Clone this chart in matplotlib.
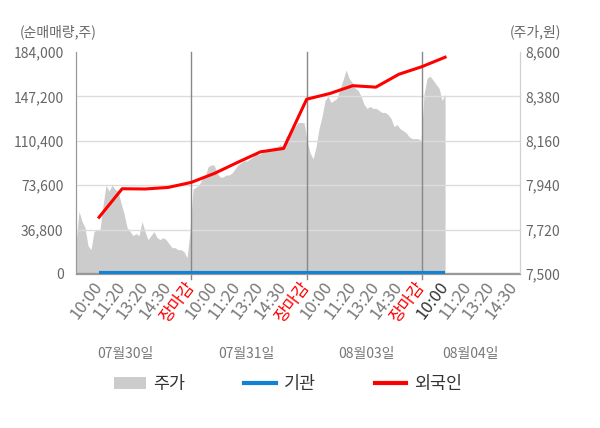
import numpy as np
import matplotlib.pyplot as plt
from matplotlib.patches import Patch
from matplotlib.lines import Line2D

plt.rcParams['font.family'] = ['Noto Sans CJK KR', 'DejaVu Sans']

# ======================
# 데이터
# ======================
tick_labels = ['10:00', '11:20', '13:20', '14:30', '장마감'] * 3 + ['10:00', '11:20', '13:20', '14:30']
dates = ['07월30일', '07월31일', '08월03일', '08월04일']

# 외국인 / 기관 순매매량 (주)
foreign = [47000, 70600, 70400, 71700, 75900, 83300, 92400, 101200,
           104000, 144800, 149500, 156000, 154800, 165500, 171800, 179600]
institution = [1000] * 16

# 주가 (원), 장중 흐름
price = [7650, 7810, 7760, 7730, 7640, 7620, 7710, 7720, 7720, 7840,
         7940, 7910, 7940, 7920, 7910, 7850, 7800, 7730, 7710, 7690,
         7700, 7690, 7760, 7710, 7670, 7690, 7710, 7680, 7670, 7680,
         7670, 7650, 7630, 7630, 7620, 7620, 7610, 7580, 7710, 7920,
         7930, 7940, 7970, 7980, 8030, 8040, 8040, 8000, 7980, 7980,
         7990, 7990, 8000, 8020, 8040, 8050, 8060, 8060, 8070, 8080,
         8100, 8090, 8100, 8110, 8120, 8120, 8130, 8130, 8140, 8130,
         8180, 8190, 8210, 8230, 8250, 8250, 8250, 8160, 8100, 8070,
         8130, 8220, 8280, 8360, 8380, 8350, 8360, 8370, 8420, 8460,
         8510, 8470, 8450, 8420, 8410, 8380, 8340, 8320, 8330, 8320,
         8320, 8310, 8300, 8300, 8290, 8270, 8230, 8240, 8220, 8210,
         8200, 8180, 8170, 8170, 8170, 8160, 8390, 8470, 8480, 8460,
         8440, 8420, 8360, 8390]

vol_ticks = [0, 36800, 73600, 110400, 147200, 184000]
price_ticks = [7500, 7720, 7940, 8160, 8380, 8600]

# ======================
# 그리기
# ======================
fig = plt.figure(figsize=(6, 4.28), dpi=100)
ax = fig.add_axes([0.1267, 0.36, 0.74, 0.5187])
ax2 = ax.twinx()

x_left, x_right = -1, 18.25
xi = np.arange(len(foreign))
xp = np.linspace(x_left, len(foreign) - 1, len(price))

ax2.patch.set_facecolor('#f4f4f4')
ax2.fill_between(xp, price, 7500, color='#cccccc', lw=0)
ax2.set_ylim(7500, 8600)
ax2.set_yticks(price_ticks)
ax2.set_yticklabels([f'{v:,}' for v in price_ticks])

ax.set_zorder(ax2.get_zorder() + 1)
ax.patch.set_visible(False)

for v in vol_ticks[1:-1]:
    ax.axhline(v, color='#dcdcdc', lw=1, zorder=1)
ax.axhline(1000, color='#999999', lw=1, zorder=1)

day_ends = [i for i, t in enumerate(tick_labels) if t == '장마감']
for d in day_ends:
    ax.plot([d, d], [-0.025, 1], transform=ax.get_xaxis_transform(),
            color='#888888', lw=1, clip_on=False, zorder=2)

ax.plot(xi, institution, color='#1482d2', lw=3, solid_capstyle='butt', zorder=3)
ax.plot(xi, foreign, color='#ff0000', lw=2.2, zorder=4)

ax.set_xlim(x_left, x_right)
ax.set_ylim(0, 184000)
ax.set_yticks(vol_ticks)
ax.set_yticklabels([f'{v:,}' for v in vol_ticks])

ax.set_xticks(np.arange(len(tick_labels)))
ax.set_xticklabels(tick_labels, rotation=53, ha='right', va='center',
                   rotation_mode='anchor', fontsize=12)
for i, lab in enumerate(ax.get_xticklabels()):
    if tick_labels[i] == '장마감':
        lab.set_color('#ff0000')
    elif i == len(foreign) - 1:
        lab.set_color('#333333')
    else:
        lab.set_color('#777777')

ax.tick_params(axis='x', length=0, pad=7)
ax.tick_params(axis='y', length=0, pad=9, labelsize=10, labelcolor='#666666')
ax2.tick_params(axis='y', length=0, pad=4, labelsize=10, labelcolor='#666666')

for a in (ax, ax2):
    a.spines['top'].set_visible(False)
    a.spines['left'].set_color('#999999')
    a.spines['right'].set_color('#d0d0d0')
    a.spines['bottom'].set_color('#999999')

# 날짜
for pos, d in zip([1.15, 6.4, 11.6, 16.1], dates):
    ax.text(pos, -0.36, d, transform=ax.get_xaxis_transform(),
            ha='center', va='center', fontsize=10, color='#777777')

fig.text(0.033, 0.925, '(순매매량,주)', fontsize=10, color='#666666', va='center')
fig.text(0.935, 0.925, '(주가,원)', fontsize=10, color='#666666', va='center', ha='right')

handles = [Patch(facecolor='#cccccc', edgecolor='none'),
           Line2D([], [], color='#1482d2', lw=3),
           Line2D([], [], color='#ff0000', lw=3)]
fig.legend(handles, ['주가', '기관', '외국인'], loc='center', bbox_to_anchor=(0.48, 0.103),
           ncol=3, frameon=False, fontsize=12.5, columnspacing=3.4, handlelength=1.8,
           handletextpad=0.45, labelcolor='#333333')

fig.savefig('out.png', dpi=100)
